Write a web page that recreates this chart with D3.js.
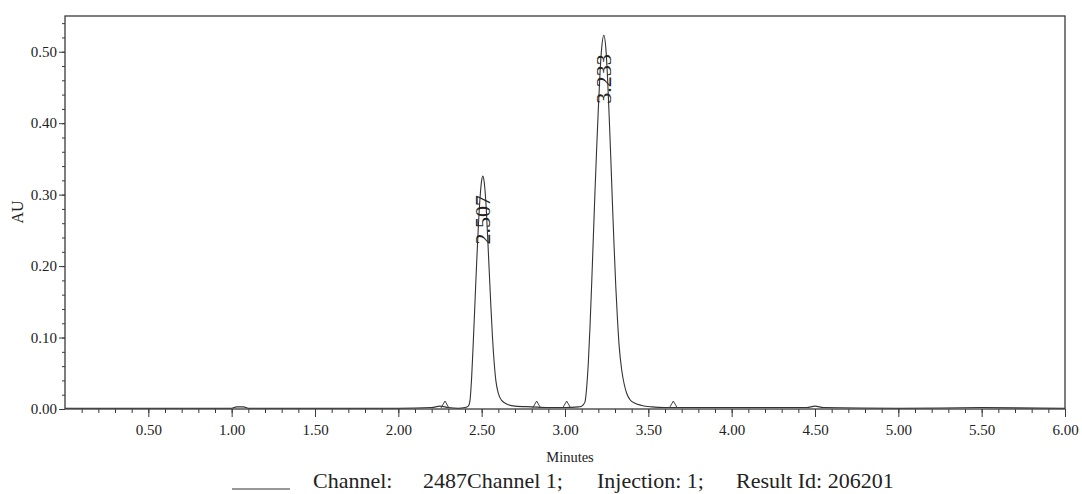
<!DOCTYPE html>
<html>
<head>
<meta charset="utf-8">
<script src="https://cdn.jsdelivr.net/npm/d3@7"></script>
<style>
  body { margin: 0; background: #fff; }
  svg { display: block; }
  text { font-family: 'Liberation Serif', 'Times New Roman', serif; fill: #222; }
</style>
</head>
<body>
<svg id="chart" width="1082" height="494"></svg>
<script>
// trace: [minutes, AU]
const trace = [
  [0.00, 0.001], [0.50, 0.001], [1.00, 0.001], [1.03, 0.003], [1.07, 0.003], [1.10, 0.001],
  [1.50, 0.001], [2.00, 0.001], [2.20, 0.002], [2.25, 0.004], [2.30, 0.002], [2.36, 0.001],
  [2.40, 0.002], [2.42, 0.004], [2.43, 0.012], [2.44, 0.045], [2.45, 0.095], [2.46, 0.150],
  [2.47, 0.205], [2.48, 0.255], [2.49, 0.295], [2.50, 0.320], [2.507, 0.326], [2.515, 0.318],
  [2.525, 0.290], [2.535, 0.245], [2.545, 0.195], [2.555, 0.145], [2.565, 0.100], [2.575, 0.065],
  [2.585, 0.040], [2.60, 0.022], [2.62, 0.012], [2.65, 0.007], [2.70, 0.004], [2.80, 0.003],
  [2.90, 0.002], [3.00, 0.002], [3.08, 0.003], [3.10, 0.004], [3.12, 0.010], [3.13, 0.030],
  [3.14, 0.065], [3.15, 0.115], [3.16, 0.175], [3.17, 0.240], [3.18, 0.305], [3.19, 0.365],
  [3.20, 0.420], [3.21, 0.470], [3.22, 0.505], [3.233, 0.523], [3.245, 0.505], [3.255, 0.465],
  [3.265, 0.410], [3.275, 0.350], [3.285, 0.285], [3.295, 0.225], [3.305, 0.170], [3.315, 0.125],
  [3.325, 0.088], [3.34, 0.055], [3.355, 0.035], [3.37, 0.022], [3.39, 0.013], [3.42, 0.008],
  [3.46, 0.005], [3.52, 0.003], [3.60, 0.002], [4.00, 0.002], [4.45, 0.002], [4.50, 0.004],
  [4.55, 0.002], [5.00, 0.001], [5.50, 0.002], [6.00, 0.001]
]

const peakTimes = [2.507, 3.233]
const peakHeights = [0.326, 0.523]
const peakLabels = ['2.507', '3.233']
const markerTimes = [2.28, 2.83, 3.01, 3.65]

const xMajor = [0.5, 1.0, 1.5, 2.0, 2.5, 3.0, 3.5, 4.0, 4.5, 5.0, 5.5, 6.0]
const yMajor = [0.0, 0.1, 0.2, 0.3, 0.4, 0.5]
const xMinor = d3.range(1, 60).map(i => i / 10)
const yMinor = d3.range(1, 28).map(i => i / 50)

const legendText = ['Channel:', '2487Channel 1;', 'Injection: 1;', 'Result Id: 206201']

const svg = d3.select('#chart')
const margin = { top: 16, right: 17, bottom: 85, left: 65 }
const width = 1082
const height = 494

const x = d3.scaleLinear().domain([0, 6]).range([margin.left, width - margin.right])
const y = d3.scaleLinear().domain([0, 0.55]).range([height - margin.bottom, margin.top])

const axisColor = '#3a3a3a'

// minor ticks first, then major with labels
svg.append('g')
    .attr('transform', `translate(0,${y(0)})`)
    .call(d3.axisBottom(x).tickValues(xMinor).tickSize(4).tickFormat(''))
    .call(g => g.select('.domain').remove())

svg.append('g')
    .attr('class', 'x-axis')
    .attr('transform', `translate(0,${y(0)})`)
    .call(d3.axisBottom(x).tickValues(xMajor).tickSize(8).tickPadding(7).tickFormat(d3.format('.2f')))
    .call(g => g.select('.domain').remove())

svg.append('g')
    .attr('transform', `translate(${x(0)},0)`)
    .call(d3.axisLeft(y).tickValues(yMinor).tickSize(3).tickFormat(''))
    .call(g => g.select('.domain').remove())

svg.append('g')
    .attr('class', 'y-axis')
    .attr('transform', `translate(${x(0)},0)`)
    .call(d3.axisLeft(y).tickValues(yMajor).tickSize(6).tickPadding(2).tickFormat(d3.format('.2f')))
    .call(g => g.select('.domain').remove())

svg.selectAll('.tick line').attr('stroke', axisColor)
svg.selectAll('.x-axis text, .y-axis text')
    .style('font-size', '15px')
    .attr('fill', '#222')

// frame
svg.append('rect')
    .attr('x', x(0))
    .attr('y', y(0.55))
    .attr('width', x(6) - x(0))
    .attr('height', y(0) - y(0.55))
    .attr('fill', 'none')
    .attr('stroke', axisColor)
    .attr('stroke-width', 1.3)

// trace
const line = d3.line()
    .x(d => x(d[0]))
    .y(d => y(d[1]))
    .curve(d3.curveMonotoneX)

svg.append('path')
    .datum(trace)
    .attr('d', line)
    .attr('fill', 'none')
    .attr('stroke', '#333')
    .attr('stroke-width', 1.1)

// integration markers on the baseline
svg.selectAll('.marker')
    .data(markerTimes)
    .join('path')
    .attr('class', 'marker')
    .attr('d', d => `M${x(d) - 4},${y(0) - 1} L${x(d)},${y(0) - 8} L${x(d) + 4},${y(0) - 1}`)
    .attr('fill', 'none')
    .attr('stroke', '#444')
    .attr('stroke-width', 1)

// peak labels
svg.selectAll('.peak-label')
    .data(peakTimes)
    .join('text')
    .attr('class', 'peak-label')
    .attr('transform', (d, i) => `translate(${x(d) + 7},${y(peakHeights[i]) + 19}) rotate(-90)`)
    .attr('text-anchor', 'end')
    .style('font-size', '22px')
    .text((d, i) => peakLabels[i])

// axis titles
svg.append('text')
    .attr('transform', 'translate(23,212) rotate(-90)')
    .attr('text-anchor', 'middle')
    .style('font-size', '16px')
    .text('AU')

svg.append('text')
    .attr('x', 570)
    .attr('y', 462)
    .attr('text-anchor', 'middle')
    .style('font-size', '14.5px')
    .text('Minutes')

// legend
svg.append('line')
    .attr('x1', 232).attr('x2', 290)
    .attr('y1', 489).attr('y2', 489)
    .attr('stroke', '#333')
    .attr('stroke-width', 1.2)

const legendX = [313, 423, 597, 736]
svg.selectAll('.legend-text')
    .data(legendText)
    .join('text')
    .attr('class', 'legend-text')
    .attr('x', (d, i) => legendX[i])
    .attr('y', 488)
    .style('font-size', '22px')
    .text(d => d)
</script>
</body>
</html>
